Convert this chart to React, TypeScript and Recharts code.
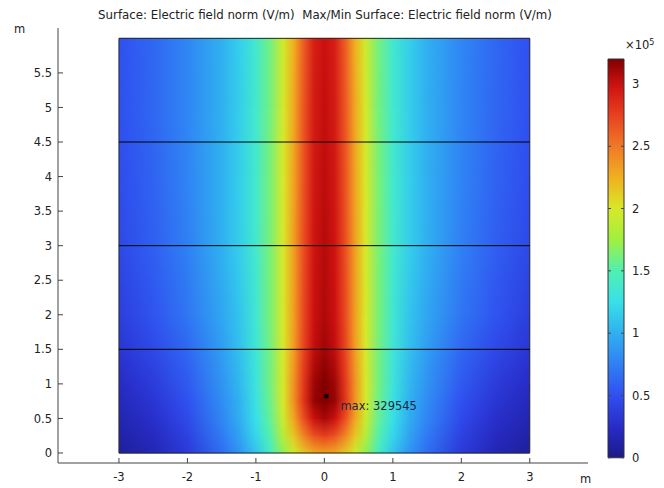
import React from "react";
import {
  ComposedChart,
  ReferenceArea,
  ReferenceLine,
  Scatter,
  XAxis,
  YAxis,
} from "recharts";

// field norm samples, in 1e5 V/m
const xSamples = [
  -3, -2.5, -2, -1.5, -1.25, -1, -0.8, -0.6, -0.45, -0.3, -0.15, 0, 0.15, 0.3,
  0.45, 0.6, 0.8, 1, 1.25, 1.5, 2, 2.5, 3,
];
const yLevels = [0, 0.25, 0.5, 0.75, 1, 1.5, 2, 3, 4, 5, 6];

const fieldY0 = [0.08, 0.18, 0.35, 0.65, 0.85, 1.1, 1.4, 1.7, 1.95, 2.15, 2.28, 2.32, 2.28, 2.15, 1.95, 1.7, 1.4, 1.1, 0.85, 0.65, 0.35, 0.18, 0.08];
const fieldY025 = [0.12, 0.22, 0.4, 0.72, 0.92, 1.2, 1.5, 1.85, 2.15, 2.45, 2.68, 2.76, 2.68, 2.45, 2.15, 1.85, 1.5, 1.2, 0.92, 0.72, 0.4, 0.22, 0.12];
const fieldY05 = [0.16, 0.27, 0.46, 0.78, 0.98, 1.25, 1.55, 1.95, 2.3, 2.7, 3.0, 3.1, 3.0, 2.7, 2.3, 1.95, 1.55, 1.25, 0.98, 0.78, 0.46, 0.27, 0.16];
const fieldY075 = [0.2, 0.32, 0.5, 0.82, 1.0, 1.28, 1.58, 2.0, 2.38, 2.82, 3.14, 3.22, 3.14, 2.82, 2.38, 2.0, 1.58, 1.28, 1.0, 0.82, 0.5, 0.32, 0.2];
const fieldY1 = [0.24, 0.36, 0.55, 0.85, 1.03, 1.3, 1.6, 2.0, 2.38, 2.8, 3.12, 3.2, 3.12, 2.8, 2.38, 2.0, 1.6, 1.3, 1.03, 0.85, 0.55, 0.36, 0.24];
const fieldY15 = [0.32, 0.45, 0.62, 0.9, 1.08, 1.33, 1.6, 2.0, 2.33, 2.74, 3.03, 3.12, 3.03, 2.74, 2.33, 2.0, 1.6, 1.33, 1.08, 0.9, 0.62, 0.45, 0.32];
const fieldY2 = [0.38, 0.52, 0.7, 0.95, 1.1, 1.35, 1.62, 2.0, 2.32, 2.72, 3.0, 3.08, 3.0, 2.72, 2.32, 2.0, 1.62, 1.35, 1.1, 0.95, 0.7, 0.52, 0.38];
const fieldY3 = [0.45, 0.58, 0.75, 1.0, 1.15, 1.37, 1.62, 2.0, 2.32, 2.7, 2.98, 3.06, 2.98, 2.7, 2.32, 2.0, 1.62, 1.37, 1.15, 1.0, 0.75, 0.58, 0.45];
const fieldY4 = [0.48, 0.6, 0.77, 1.0, 1.15, 1.37, 1.62, 2.0, 2.3, 2.68, 2.96, 3.04, 2.96, 2.68, 2.3, 2.0, 1.62, 1.37, 1.15, 1.0, 0.77, 0.6, 0.48];
const fieldY5 = [0.5, 0.62, 0.78, 1.0, 1.15, 1.37, 1.6, 1.98, 2.28, 2.66, 2.94, 3.02, 2.94, 2.66, 2.28, 1.98, 1.6, 1.37, 1.15, 1.0, 0.78, 0.62, 0.5];
const fieldY6 = [0.5, 0.62, 0.78, 1.0, 1.15, 1.36, 1.6, 1.96, 2.25, 2.63, 2.92, 3.0, 2.92, 2.63, 2.25, 1.96, 1.6, 1.36, 1.15, 1.0, 0.78, 0.62, 0.5];

const fieldRows = [
  fieldY0, fieldY025, fieldY05, fieldY075, fieldY1, fieldY15,
  fieldY2, fieldY3, fieldY4, fieldY5, fieldY6,
];

const boundaryLevels = [1.5, 3, 4.5];
const xTicks = [-3, -2, -1, 0, 1, 2, 3];
const yTicks = [0, 0.5, 1, 1.5, 2, 2.5, 3, 3.5, 4, 4.5, 5, 5.5];
const colorbarTicks = [0, 0.5, 1, 1.5, 2, 2.5, 3];
const colorbarRange = [0, 3.2];
const maxPoint = [{ x: 0.03, y: 0.82 }];
const maxValue = 329545;

// rainbow colour table (value in 1e5 V/m -> rgb)
const rainbow: [number, number[]][] = [
  [0, [26, 26, 136]],
  [0.25, [40, 44, 200]],
  [0.5, [48, 80, 240]],
  [0.75, [48, 128, 244]],
  [1.0, [48, 176, 240]],
  [1.25, [56, 224, 232]],
  [1.5, [80, 240, 176]],
  [1.75, [160, 240, 64]],
  [2.0, [216, 232, 40]],
  [2.25, [240, 176, 32]],
  [2.5, [240, 120, 40]],
  [2.75, [232, 64, 32]],
  [3.0, [204, 16, 16]],
  [3.2, [128, 0, 0]],
];

function fieldColor(v: number): string {
  if (v <= rainbow[0][0]) return `rgb(${rainbow[0][1].join(",")})`;
  for (let i = 1; i < rainbow.length; i++) {
    const [v1, c1] = rainbow[i];
    if (v <= v1) {
      const [v0, c0] = rainbow[i - 1];
      const t = (v - v0) / (v1 - v0);
      const c = c0.map((a, k) => Math.round(a + (c1[k] - a) * t));
      return `rgb(${c.join(",")})`;
    }
  }
  return `rgb(${rainbow[rainbow.length - 1][1].join(",")})`;
}

const font = "'DejaVu Sans', sans-serif";
const ink = "#222";
const frame = "#444";
const noLabel = () => <g />;

function HeatBand(props: any) {
  const { x, y, width, height, lower, upper } = props;
  return (
    <g>
      <rect x={x} y={y - 0.5} width={width} height={height + 1} fill={`url(#heat-row-${lower})`} />
      <rect x={x} y={y - 0.5} width={width} height={height + 1} fill={`url(#heat-row-${upper})`} mask="url(#fade-up)" />
    </g>
  );
}

function MaxMarker(props: any) {
  const { cx, cy } = props;
  return (
    <g>
      <rect x={cx - 2} y={cy - 2} width={4} height={4} fill="#000" />
      <text x={cx + 14} y={cy + 14} fontSize={11.5} fontFamily={font} fill="#1c2640">
        {`max: ${maxValue}`}
      </text>
    </g>
  );
}

function FieldPlot() {
  const xFirst = xSamples[0];
  const xSpan = xSamples[xSamples.length - 1] - xFirst;
  const xDomain = [-3.89, 3.85];
  const yDomain = [-0.145, 6.15];

  return (
    <ComposedChart
      width={664}
      height={488}
      data={maxPoint}
      margin={{ top: 28, right: 76, bottom: 0, left: 0 }}
    >
      <defs>
        {fieldRows.map((row, i) => (
          <linearGradient key={i} id={`heat-row-${i}`} x1="0" y1="0" x2="1" y2="0">
            {row.map((v, k) => (
              <stop key={k} offset={(xSamples[k] - xFirst) / xSpan} stopColor={fieldColor(v)} />
            ))}
          </linearGradient>
        ))}
        <linearGradient id="fade-grad" x1="0" y1="1" x2="0" y2="0">
          <stop offset="0" stopColor="#000" />
          <stop offset="1" stopColor="#fff" />
        </linearGradient>
        <mask id="fade-up" maskContentUnits="objectBoundingBox">
          <rect x="0" y="0" width="1" height="1" fill="url(#fade-grad)" />
        </mask>
      </defs>

      <XAxis
        type="number"
        dataKey="x"
        domain={xDomain}
        allowDataOverflow
        ticks={xTicks}
        height={25}
        tickSize={-5}
        tickMargin={15}
        stroke={frame}
        tick={{ fill: ink, fontSize: 11.5, fontFamily: font }}
      />
      <XAxis
        xAxisId="top"
        type="number"
        orientation="top"
        domain={xDomain}
        allowDataOverflow
        ticks={xTicks}
        height={0}
        tickSize={-5}
        tick={noLabel}
        stroke={frame}
      />
      <YAxis
        type="number"
        dataKey="y"
        domain={yDomain}
        allowDataOverflow
        ticks={yTicks}
        width={58}
        tickSize={-5}
        tickMargin={11}
        stroke={frame}
        tick={{ fill: ink, fontSize: 11.5, fontFamily: font }}
      />
      <YAxis
        yAxisId="right"
        type="number"
        orientation="right"
        domain={yDomain}
        allowDataOverflow
        ticks={yTicks}
        width={0}
        tickSize={-5}
        tick={noLabel}
        stroke={frame}
      />

      {yLevels.slice(0, -1).map((y0, i) => (
        <ReferenceArea
          key={`band-${i}`}
          x1={xSamples[0]}
          x2={xSamples[xSamples.length - 1]}
          y1={y0}
          y2={yLevels[i + 1]}
          shape={(p: any) => <HeatBand {...p} lower={i} upper={i + 1} />}
        />
      ))}
      {boundaryLevels.map((level) => (
        <ReferenceLine
          key={level}
          segment={[
            { x: xSamples[0], y: level },
            { x: xSamples[xSamples.length - 1], y: level },
          ]}
          stroke="#000"
          strokeWidth={1}
        />
      ))}
      <ReferenceArea
        x1={xSamples[0]}
        x2={xSamples[xSamples.length - 1]}
        y1={yLevels[0]}
        y2={yLevels[yLevels.length - 1]}
        fill="none"
        stroke="#2a2a2a"
        strokeWidth={1}
      />
      <Scatter data={maxPoint} isAnimationActive={false} shape={<MaxMarker />} />
    </ComposedChart>
  );
}

const colorbarData = [{ x: 0, v: 0 }];

function Colorbar() {
  const cbDomain = [-0.01, colorbarRange[1]];
  return (
    <ComposedChart
      width={64}
      height={488}
      data={colorbarData}
      margin={{ top: 59, right: 0, bottom: 29, left: 0 }}
    >
      <defs>
        <linearGradient id="colorbar-grad" x1="0" y1="1" x2="0" y2="0">
          {rainbow.map(([v, c]) => (
            <stop key={v} offset={v / colorbarRange[1]} stopColor={`rgb(${c.join(",")})`} />
          ))}
        </linearGradient>
      </defs>
      <XAxis type="number" dataKey="x" domain={[0, 1]} hide />
      <YAxis
        yAxisId="cbl"
        type="number"
        domain={cbDomain}
        allowDataOverflow
        ticks={colorbarTicks}
        width={8}
        tickSize={-3}
        tick={noLabel}
        axisLine={false}
        stroke={frame}
      />
      <YAxis
        yAxisId="cbr"
        orientation="right"
        type="number"
        dataKey="v"
        domain={cbDomain}
        allowDataOverflow
        ticks={colorbarTicks}
        width={40}
        tickSize={-3}
        tickMargin={11}
        axisLine={false}
        stroke={frame}
        tick={{ fill: ink, fontSize: 11.5, fontFamily: font, textAnchor: "start" }}
      />
      <ReferenceArea
        yAxisId="cbr"
        x1={0}
        x2={1}
        y1={colorbarRange[0]}
        y2={colorbarRange[1]}
        fill="url(#colorbar-grad)"
        fillOpacity={1}
        stroke="#333"
        strokeWidth={1}
        ifOverflow="visible"
      />
      <Scatter yAxisId="cbr" dataKey="v" isAnimationActive={false} shape={noLabel} />
    </ComposedChart>
  );
}

const textStyle: React.CSSProperties = {
  position: "absolute",
  fontFamily: font,
  fontSize: 11.5,
  color: ink,
  whiteSpace: "pre",
  lineHeight: "13px",
};

export default function App() {
  return (
    <div style={{ position: "absolute", left: 0, top: 0, width: 664, height: 488, background: "#fff" }}>
      <div style={{ position: "absolute", left: 0, top: 0 }}>
        <FieldPlot />
      </div>
      <div style={{ position: "absolute", left: 600, top: 0 }}>
        <Colorbar />
      </div>
      <div style={{ ...textStyle, fontSize: 11.8, left: 0, width: 650, top: 9, textAlign: "center" }}>
        {"Surface: Electric field norm (V/m)  Max/Min Surface: Electric field norm (V/m)"}
      </div>
      <div style={{ ...textStyle, left: 14, top: 23 }}>m</div>
      <div style={{ ...textStyle, left: 580, top: 473 }}>m</div>
      <div style={{ ...textStyle, left: 625, top: 39 }}>
        ×10<sup style={{ fontSize: 8, verticalAlign: "4px", lineHeight: 0 }}>5</sup>
      </div>
    </div>
  );
}
